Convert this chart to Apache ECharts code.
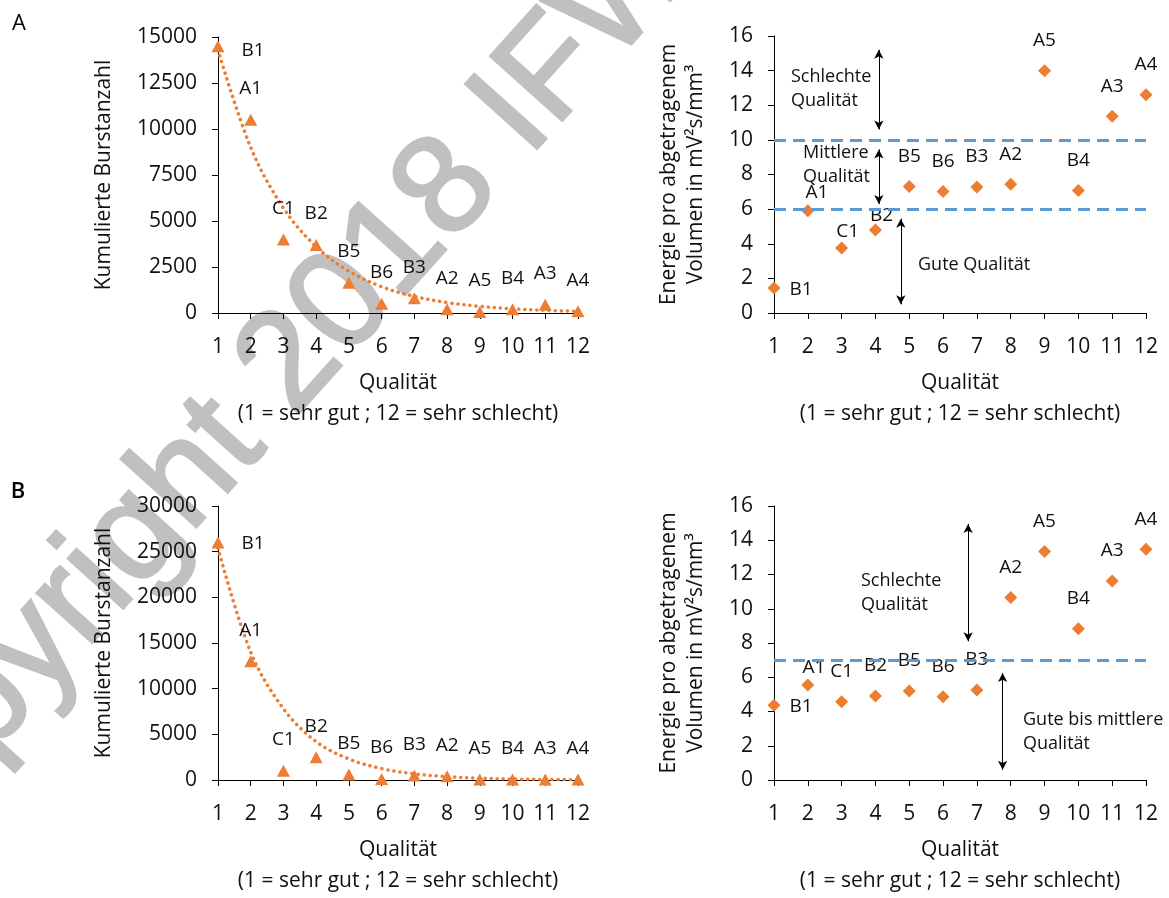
<!DOCTYPE html>
<html>
<head>
<meta charset="utf-8">
<script src="https://cdn.jsdelivr.net/npm/echarts@6/dist/echarts.min.js"></script>
<style>
  html, body { margin: 0; padding: 0; background: #fff; }
  #chart { width: 1169px; height: 898px; }
</style>
</head>
<body>
<div id="chart"></div>
<script>
// x positions and sample names (same order in all four panels)
const quality = [1, 2, 3, 4, 5, 6, 7, 8, 9, 10, 11, 12];
const probes = ["B1", "A1", "C1", "B2", "B5", "B6", "B3", "A2", "A5", "B4", "A3", "A4"];

// panel A
const burstsA = [14500, 10500, 4000, 3700, 1650, 500, 800, 200, 50, 200, 450, 100];
const trendA = [14300, 9000, 5700, 3600, 2270, 1430, 900, 570, 360, 230, 145, 90];
const energyA = [1.45, 5.9, 3.75, 4.8, 7.3, 7.02, 7.28, 7.44, 14.0, 7.08, 11.37, 12.6];
const limitsA = [6, 10];

// panel B
const burstsB = [26000, 13000, 1000, 2500, 600, 100, 500, 400, 50, 50, 50, 50];
const trendB = [25400, 14000, 7800, 4200, 2300, 1250, 680, 370, 200, 110, 60, 35];
const energyB = [4.36, 5.55, 4.57, 4.9, 5.2, 4.86, 5.26, 10.66, 13.34, 8.83, 11.62, 13.47];
const limitsB = [7];

const orange = "#ED7D31";
const blue = "#5B9BD5";
const ink = "#111";
const font = '"Open Sans", "Noto Sans", sans-serif';

// label offsets that differ from the default "above the point"
const shiftsA1 = { 0: [35, 4] };
const shiftsA2 = { 0: [27, 2], 1: [9, -18], 2: [6, -16], 3: [6, -14] };
const shiftsB1 = { 0: [35, 1] };
const shiftsB2 = { 0: [27, 1], 1: [6, -17] };

function points(values, shifts) {
  return values.map((v, i) => {
    const item = { name: probes[i], value: [quality[i], v] };
    if (shifts && shifts[i]) item.label = { offset: shifts[i] };
    return item;
  });
}

function xAxisFor(grid) {
  return {
    type: "value", gridIndex: grid, min: 1, max: 12, interval: 1,
    name: "Qualität\n(1 = sehr gut ; 12 = sehr schlecht)",
    nameLocation: "middle", nameGap: 55,
    nameTextStyle: { fontSize: 21, lineHeight: 31, color: ink, fontFamily: font },
    axisLine: { onZero: false, lineStyle: { color: "#000", width: 1 } },
    axisTick: { show: true, length: 6, lineStyle: { color: "#000" } },
    axisLabel: { fontSize: 21, lineHeight: 21, color: ink, margin: 24, fontFamily: font },
    splitLine: { show: false }
  };
}

function yAxisFor(grid, max, step, name, gap) {
  return {
    type: "value", gridIndex: grid, min: 0, max: max, interval: step,
    name: name, nameLocation: "middle", nameGap: gap,
    nameTextStyle: { fontSize: 21, lineHeight: 27, color: ink, fontFamily: font },
    axisLine: { show: true, lineStyle: { color: "#000", width: 1 } },
    axisTick: { show: true, length: 6, lineStyle: { color: "#000" } },
    axisLabel: { fontSize: 21, color: ink, margin: 21, fontFamily: font,
                 formatter: v => String(v) },
    splitLine: { show: false }
  };
}

const pointLabel = {
  show: true, position: "inside", offset: [0, -30], formatter: "{b}",
  fontSize: 19, color: ink, fontFamily: font
};

function burstSeries(grid, values, trend, shifts) {
  return [
    {
      type: "line", xAxisIndex: grid, yAxisIndex: grid,
      data: quality.map((q, i) => [q, trend[i]]),
      smooth: 0.35, showSymbol: false, silent: true, z: 1,
      lineStyle: { color: orange, width: 3.5, type: [0.1, 6], cap: "round", opacity: 1 }
    },
    {
      type: "scatter", xAxisIndex: grid, yAxisIndex: grid,
      symbol: "triangle", symbolSize: [13, 12],
      itemStyle: { color: orange, opacity: 1 },
      label: Object.assign({}, pointLabel, { offset: [0, -31] }),
      data: points(values, shifts), z: 3
    }
  ];
}

function energySeries(grid, values, limits, shifts, arrows) {
  return [
    {
      type: "scatter", xAxisIndex: grid, yAxisIndex: grid,
      symbol: "diamond", symbolSize: [13, 13],
      itemStyle: { color: orange, opacity: 1 },
      label: pointLabel,
      data: points(values, shifts), z: 3,
      markLine: {
        silent: true, symbol: "none", label: { show: false },
        lineStyle: { color: blue, width: 3, type: [12, 7], opacity: 1 },
        data: limits.map(v => ({ yAxis: v }))
      }
    },
    {
      type: "line", xAxisIndex: grid, yAxisIndex: grid, data: [],
      markLine: {
        silent: true, symbol: ["arrow", "arrow"], symbolSize: [7, 9],
        label: { show: false },
        itemStyle: { color: "#000" },
        lineStyle: { color: "#000", width: 1, type: "solid", opacity: 1 },
        data: arrows.map(a => [{ coord: [a[0], a[1]] }, { coord: [a[0], a[2]] }])
      }
    }
  ];
}

function note(x, y, text) {
  return {
    type: "text", x: x, y: y,
    style: { text: text, fontSize: 18, lineHeight: 24, fill: ink, fontFamily: font,
             textAlign: "left", textVerticalAlign: "top" }
  };
}

const burstName = "Kumulierte Burstanzahl";
const energyName = "Energie pro abgetragenem\nVolumen in mV²s/mm³";

const chart = echarts.init(document.getElementById("chart"));
chart.setOption({
  animation: false,
  textStyle: { fontFamily: font },
  grid: [
    { left: 218, top: 37, width: 360, height: 276 },
    { left: 774, top: 36, width: 372, height: 277 },
    { left: 218, top: 506, width: 360, height: 277 },
    { left: 774, top: 506, width: 372, height: 277 }
  ],
  xAxis: [0, 1, 2, 3].map(xAxisFor),
  yAxis: [
    yAxisFor(0, 15000, 2500, burstName, 100),
    yAxisFor(1, 16, 2, energyName, 64),
    yAxisFor(2, 30000, 5000, burstName, 100),
    yAxisFor(3, 16, 2, energyName, 64)
  ],
  series: [].concat(
    burstSeries(0, burstsA, trendA, shiftsA1),
    energySeries(1, energyA, limitsA, shiftsA2,
      [[4.1, 15.2, 10.6], [4.1, 9.45, 6.3], [4.75, 5.45, 0.5]]),
    burstSeries(2, burstsB, trendB, shiftsB1),
    energySeries(3, energyB, limitsB, shiftsB2,
      [[6.74, 14.95, 8.1], [7.76, 6.25, 0.6]])
  ),
  graphic: [
    {
      type: "text", x: 255, y: 404, rotation: 48 * Math.PI / 180, z: -10,
      style: { text: "Copyright 2018 IFW", fontFamily: '"Liberation Sans", Arial, sans-serif',
               fontSize: 140, fill: "#c0c0c0", stroke: "#c0c0c0", lineWidth: 3,
               textAlign: "center", textVerticalAlign: "middle" }
    },
    { type: "text", x: 19, y: 24, style: { text: "A", fontSize: 22, fill: "#000", fontFamily: font,
      textAlign: "center", textVerticalAlign: "middle" } },
    { type: "text", x: 18, y: 492, style: { text: "B", fontSize: 22, fontWeight: 600, fill: "#000",
      fontFamily: font, textAlign: "center", textVerticalAlign: "middle" } },
    note(791, 65, "Schlechte\nQualität"),
    note(803, 141, "Mittlere\nQualität"),
    note(918, 253, "Gute Qualität"),
    note(861, 569, "Schlechte\nQualität"),
    note(1023, 708, "Gute bis mittlere\nQualität")
  ]
});
</script>
</body>
</html>
